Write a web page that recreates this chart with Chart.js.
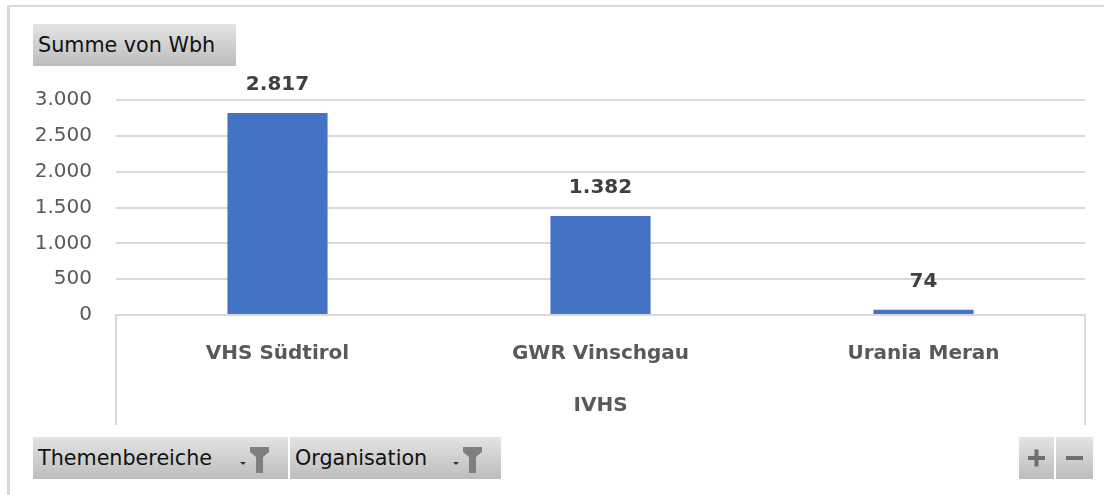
<!DOCTYPE html>
<html>
<head>
<meta charset="utf-8">
<script src="https://cdn.jsdelivr.net/npm/chart.js@4/dist/chart.umd.min.js"></script>
<style>
	body { margin: 0; background: #fff; }
	#wrap { position: relative; width: 1104px; height: 495px; overflow: hidden; }
	#frame { position: absolute; left: 7px; top: 5px; right: 0; bottom: 0; border-left: 3px solid #d9d9d9; border-top: 2px solid #d9d9d9; }
	#chart { position: absolute; left: 0; top: 0; }
	.btn { position: absolute; height: 42px; background: linear-gradient(#e3e3e3, #bdbdbd); font: 20.7px "DejaVu Sans", sans-serif; line-height: 42px; color: #111; padding-left: 5px; box-sizing: border-box; white-space: nowrap; }
	.btn svg { position: absolute; top: 0; }
</style>
</head>
<body>
<div id="wrap">
	<div id="frame"></div>
	<canvas id="chart" width="1104" height="495"></canvas>

	<div class="btn" style="left:33px;top:24px;width:203px;">Summe von Wbh</div>

	<div class="btn" style="left:33px;top:437px;width:255px;">Themenbereiche
		<svg style="left:204px" width="44" height="42">
			<path d="M3 25 h6 l-3 3 z" fill="#333"/>
			<path d="M13 10 h19 v5 l-6 5 v16 h-7 v-16 l-6 -5 z" fill="#7f7f7f"/>
		</svg>
	</div>
	<div class="btn" style="left:290px;top:437px;width:211px;">Organisation
		<svg style="left:160px" width="44" height="42">
			<path d="M3 25 h6 l-3 3 z" fill="#333"/>
			<path d="M13 10 h19 v5 l-6 5 v16 h-7 v-16 l-6 -5 z" fill="#7f7f7f"/>
		</svg>
	</div>

	<div class="btn" style="left:1019px;top:437px;width:35px;padding:0;">
		<svg style="left:0" width="35" height="42">
			<rect x="9" y="19" width="17" height="4" fill="#6e6e6e"/>
			<rect x="15.5" y="12.5" width="4" height="17" fill="#6e6e6e"/>
		</svg>
	</div>
	<div class="btn" style="left:1056px;top:437px;width:37px;padding:0;">
		<svg style="left:0" width="37" height="42">
			<rect x="10" y="19" width="17" height="4" fill="#6e6e6e"/>
		</svg>
	</div>
</div>

<script>
const categories = ['VHS Südtirol', 'GWR Vinschgau', 'Urania Meran'];
const wbh = [2817, 1382, 74];
const axisTitle = 'IVHS';
const yMax = 3000;
const yStep = 500;

const fmt = v => String(v).replace(/\B(?=(\d{3})+(?!\d))/g, '.');

// value labels above each bar
const valueLabels = {
	id: 'valueLabels',
	afterDatasetsDraw(chart) {
		const ctx = chart.ctx;
		const meta = chart.getDatasetMeta(0);
		ctx.save();
		ctx.font = 'bold 20px "DejaVu Sans"';
		ctx.fillStyle = '#404040';
		ctx.textAlign = 'center';
		ctx.textBaseline = 'middle';
		meta.data.forEach((bar, i) => {
			ctx.fillText(fmt(wbh[i]), bar.x, bar.y - 28);
		});
		ctx.restore();
	}
};

// box around the category axis, like the pivot chart
const axisBox = {
	id: 'axisBox',
	beforeDatasetsDraw(chart) {
		const { ctx, chartArea: a } = chart;
		const bottom = chart.scales.x.bottom;
		ctx.save();
		ctx.strokeStyle = '#d9d9d9';
		ctx.lineWidth = 2;
		ctx.beginPath();
		ctx.moveTo(a.left, bottom);
		ctx.lineTo(a.left, a.bottom);
		ctx.lineTo(a.right, a.bottom);
		ctx.lineTo(a.right, bottom);
		ctx.stroke();
		ctx.restore();
	}
};

new Chart(document.getElementById('chart'), {
	type: 'bar',
	data: {
		labels: categories,
		datasets: [{
			data: wbh,
			backgroundColor: '#4472c4',
			categoryPercentage: 1,
			barPercentage: 0.31
		}]
	},
	options: {
		responsive: false,
		animation: false,
		layout: { padding: { top: 100, bottom: 70, left: 0, right: 19 } },
		plugins: { legend: { display: false }, tooltip: { enabled: false } },
		scales: {
			x: {
				grid: { display: false },
				border: { display: false },
				ticks: {
					color: '#595959',
					padding: 19,
					font: { family: 'DejaVu Sans', size: 20, weight: 'bold' }
				},
				title: {
					display: true,
					text: axisTitle,
					color: '#595959',
					padding: { top: 0, bottom: 7 },
					font: { family: 'DejaVu Sans', size: 20, weight: 'bold' }
				},
				afterFit: s => { s.height = 110; }
			},
			y: {
				min: 0,
				max: yMax,
				ticks: {
					stepSize: yStep,
					padding: 24,
					color: '#595959',
					font: { family: 'DejaVu Sans', size: 20 },
					callback: v => fmt(v)
				},
				grid: { color: '#d9d9d9', lineWidth: 2, drawTicks: false },
				border: { display: false },
				afterFit: s => { s.width = 116; }
			}
		}
	},
	plugins: [axisBox, valueLabels]
});
</script>
</body>
</html>
